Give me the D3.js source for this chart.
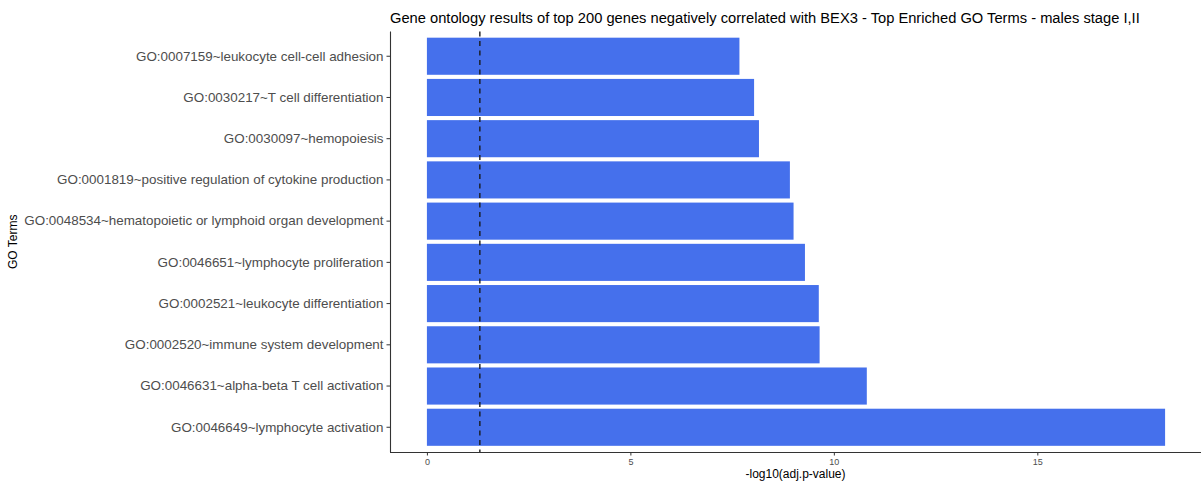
<!DOCTYPE html>
<html><head><meta charset="utf-8">
<script src="https://cdn.jsdelivr.net/npm/d3@7/dist/d3.min.js"></script>
<style>body{margin:0;background:#fff}svg{display:block;font-family:"Liberation Sans",Arial,sans-serif}</style>
</head><body><svg id="c" width="1201" height="484"></svg>
<script>
const terms = [
  "GO:0007159~leukocyte cell-cell adhesion",
  "GO:0030217~T cell differentiation",
  "GO:0030097~hemopoiesis",
  "GO:0001819~positive regulation of cytokine production",
  "GO:0048534~hematopoietic or lymphoid organ development",
  "GO:0046651~lymphocyte proliferation",
  "GO:0002521~leukocyte differentiation",
  "GO:0002520~immune system development",
  "GO:0046631~alpha-beta T cell activation",
  "GO:0046649~lymphocyte activation"
];
const values = [7.68, 8.04, 8.16, 8.92, 9.01, 9.29, 9.63, 9.65, 10.81, 18.14];
const xTicks = [0, 5, 10, 15];
const threshold = -Math.log10(0.05);
const title = "Gene ontology results of top 200 genes negatively correlated with BEX3 - Top Enriched GO Terms - males stage I,II";

const svg = d3.select("#c");
const L = 390, R = 1202, T = 31.5, B = 452;
const maxV = d3.max(values);
const x = d3.scaleLinear().domain([-0.05*maxV, 1.05*maxV]).range([L, R]);
const step = (B - T) / (terms.length + 0.2);
const y = d3.scaleBand().domain(terms).range([T + 0.6*step - step/2, B - 0.6*step + step/2]).paddingInner(0.1).paddingOuter(0.05);

// bars
svg.append("g").selectAll("rect").data(terms).join("rect")
  .attr("x", x(0)).attr("y", d => y(d))
  .attr("width", (d,i) => x(values[i]) - x(0))
  .attr("height", y.bandwidth())
  .attr("fill", "#4570ec");

// threshold line
svg.append("line").attr("x1", x(threshold)).attr("x2", x(threshold))
  .attr("y1", T).attr("y2", B)
  .attr("stroke", "#1a1a1a").attr("stroke-width", 1.4).attr("stroke-dasharray", "5,4.5");

// axes
const yAxis = svg.append("g").attr("transform", `translate(${L},0)`)
  .call(d3.axisLeft(y).tickSize(3.5).tickPadding(3));
yAxis.select(".domain").attr("d", `M0.5,${T}V${B}`).attr("stroke", "#333").attr("stroke-width", 1.1);
yAxis.selectAll(".tick line").attr("stroke", "#333");
yAxis.selectAll("text").attr("fill", "#4d4d4d").style("font-size", "13.4px");

const xAxis = svg.append("g").attr("transform", `translate(0,${B})`)
  .call(d3.axisBottom(x).tickValues(xTicks).tickSize(3.5).tickPadding(3));
xAxis.select(".domain").attr("d", `M${L},0.5H${R}`).attr("stroke", "#333").attr("stroke-width", 1.1);
xAxis.selectAll(".tick line").attr("stroke", "#333");
xAxis.selectAll("text").attr("fill", "#4d4d4d").style("font-size", "9px");

// titles
svg.append("text").attr("x", L).attr("y", 23).text(title)
  .style("font-size", "14.7px").attr("fill", "#000");
svg.append("text").attr("x", (L + 1201)/2).attr("y", 478).attr("text-anchor", "middle")
  .text("-log10(adj.p-value)").style("font-size", "12px").attr("fill", "#000");
svg.append("text").attr("transform", `translate(17,${(T+B)/2}) rotate(-90)`).attr("text-anchor", "middle")
  .text("GO Terms").style("font-size", "12px").attr("fill", "#000");
</script></body></html>
